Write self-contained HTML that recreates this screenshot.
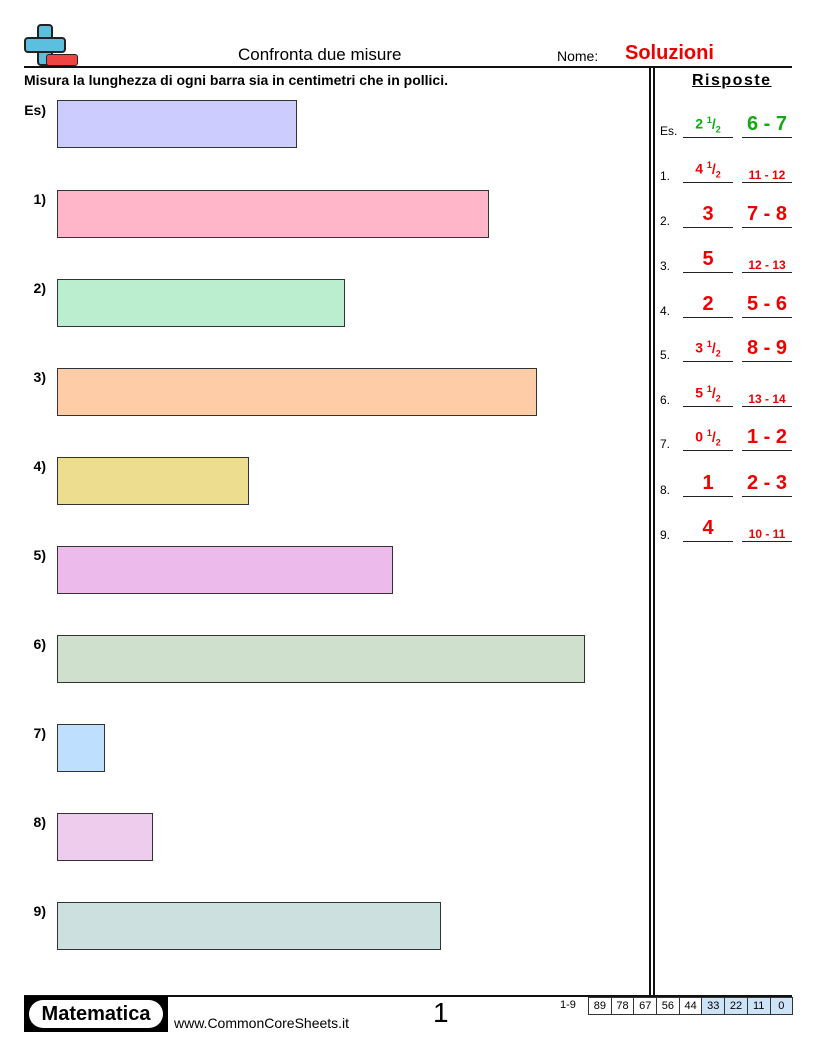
<!DOCTYPE html><html><head><style>
body{margin:0;width:816px;height:1056px;position:relative;font-family:"Liberation Sans",sans-serif;background:#fff}
.a{position:absolute}
.bar{position:absolute;left:57px;height:48px;border:1px solid #333;box-sizing:border-box}
.lb{position:absolute;font-weight:bold;font-size:14px;width:46px;text-align:right;left:0}
.n{position:absolute;left:660px;font-size:12px}
.u{position:absolute;border-bottom:1.5px solid #222;width:50px;text-align:center;font-weight:bold;color:#e00}
.g{color:#1a1}
.big{font-size:20px}.sm{font-size:12px}
sup,sub{font-size:9px}
.sc span{border:1px solid #333;border-left:0;width:21.7px;height:16px;text-align:center;display:inline-block}
</style></head><body>
<div class="a" style="left:24px;top:24px;width:54px;height:44px">
<div class="a" style="left:13px;top:0;width:16px;height:42px;background:#5bbfdf;border:2px solid #222;border-radius:4px;box-sizing:border-box"></div>
<div class="a" style="left:0;top:13px;width:42px;height:16px;background:#5bbfdf;border:2px solid #222;border-radius:4px;box-sizing:border-box"></div>
<div class="a" style="left:16px;top:18px;width:10px;height:6px;background:#5bbfdf"></div>
<div class="a" style="left:22px;top:30px;width:32px;height:12px;background:#e44;border:1.5px solid #222;border-radius:3px;box-sizing:border-box"></div>
</div>
<div class="a" style="left:238px;top:45px;font-size:17px">Confronta due misure</div>
<div class="a" style="left:557px;top:48px;font-size:14px">Nome:</div>
<div class="a" style="left:625px;top:42px;font-size:20px;font-weight:bold;color:#e00">Soluzioni</div>
<div class="a" style="left:24px;top:66px;width:768px;height:2px;background:#111"></div>
<div class="a" style="left:24px;top:72px;font-size:14px;font-weight:bold">Misura la lunghezza di ogni barra sia in centimetri che in pollici.</div>
<div class="a" style="left:649px;top:67px;width:1.5px;height:928px;background:#111"></div>
<div class="a" style="left:653px;top:67px;width:1.5px;height:928px;background:#111"></div>
<div class="a" style="left:692px;top:72px;font-size:16px;font-weight:bold;text-decoration:underline;letter-spacing:1.5px">Risposte</div>

<div class="bar" style="top:100px;width:240px;background:#ccccff"></div>
<div class="bar" style="top:190px;width:432px;background:#ffb6c9"></div>
<div class="bar" style="top:279px;width:288px;background:#bbeecf"></div>
<div class="bar" style="top:368px;width:480px;background:#ffcca8"></div>
<div class="bar" style="top:457px;width:192px;background:#ecdd8f"></div>
<div class="bar" style="top:546px;width:336px;background:#ecbbec"></div>
<div class="bar" style="top:635px;width:528px;background:#cfe0cc"></div>
<div class="bar" style="top:724px;width:48px;background:#bfdfff"></div>
<div class="bar" style="top:813px;width:96px;background:#eeccee"></div>
<div class="bar" style="top:902px;width:384px;background:#cce0e0"></div>
<div class="lb" style="top:102px">Es)</div>
<div class="lb" style="top:191px">1)</div><div class="lb" style="top:280px">2)</div><div class="lb" style="top:369px">3)</div><div class="lb" style="top:458px">4)</div><div class="lb" style="top:547px">5)</div><div class="lb" style="top:636px">6)</div><div class="lb" style="top:725px">7)</div><div class="lb" style="top:814px">8)</div><div class="lb" style="top:903px">9)</div>

<div class="n" style="top:124px">Es.</div>
<div class="u g" style="left:683px;top:115px;height:22px;font-size:14px">2 <sup>1</sup>/<sub>2</sub></div>
<div class="u g big" style="left:742px;top:113px;height:24px">6 - 7</div>
<div class="n" style="top:169px">1.</div>
<div class="u" style="left:683px;top:160px;height:22px;font-size:14px">4 <sup>1</sup>/<sub>2</sub></div>
<div class="u sm" style="left:742px;top:168px;height:14px">11 - 12</div>
<div class="n" style="top:214px">2.</div>
<div class="u big" style="left:683px;top:203px;height:24px">3</div>
<div class="u big" style="left:742px;top:203px;height:24px">7 - 8</div>
<div class="n" style="top:259px">3.</div>
<div class="u big" style="left:683px;top:248px;height:24px">5</div>
<div class="u sm" style="left:742px;top:258px;height:14px">12 - 13</div>
<div class="n" style="top:304px">4.</div>
<div class="u big" style="left:683px;top:293px;height:24px">2</div>
<div class="u big" style="left:742px;top:293px;height:24px">5 - 6</div>
<div class="n" style="top:348px">5.</div>
<div class="u" style="left:683px;top:339px;height:22px;font-size:14px">3 <sup>1</sup>/<sub>2</sub></div>
<div class="u big" style="left:742px;top:337px;height:24px">8 - 9</div>
<div class="n" style="top:393px">6.</div>
<div class="u" style="left:683px;top:384px;height:22px;font-size:14px">5 <sup>1</sup>/<sub>2</sub></div>
<div class="u sm" style="left:742px;top:392px;height:14px">13 - 14</div>
<div class="n" style="top:437px">7.</div>
<div class="u" style="left:683px;top:428px;height:22px;font-size:14px">0 <sup>1</sup>/<sub>2</sub></div>
<div class="u big" style="left:742px;top:426px;height:24px">1 - 2</div>
<div class="n" style="top:483px">8.</div>
<div class="u big" style="left:683px;top:472px;height:24px">1</div>
<div class="u big" style="left:742px;top:472px;height:24px">2 - 3</div>
<div class="n" style="top:528px">9.</div>
<div class="u big" style="left:683px;top:517px;height:24px">4</div>
<div class="u sm" style="left:742px;top:527px;height:14px">10 - 11</div>

<div class="a" style="left:24px;top:995px;width:768px;height:1.5px;background:#111"></div>
<div class="a" style="left:24px;top:996px;width:144px;height:36px;background:#000">
<div class="a" style="left:5px;top:4px;width:134px;height:28px;background:#fff;border-radius:14px;text-align:center;font-weight:bold;font-size:20px;line-height:28px">Matematica</div></div>
<div class="a" style="left:174px;top:1015px;font-size:14px">www.CommonCoreSheets.it</div>
<div class="a" style="left:433px;top:997px;font-size:28px">1</div>
<div class="a" style="left:560px;top:999px;font-size:11px">1-9</div>
<div class="a sc" style="left:588px;top:997px;display:flex;font-size:11px;line-height:16px">
<span style="border-left:1px solid #333">89</span><span>78</span><span>67</span><span>56</span><span>44</span><span style="background:#cde3f7">33</span><span style="background:#cde3f7">22</span><span style="background:#cde3f7">11</span><span style="background:#cde3f7">0</span></div>
</body></html>
